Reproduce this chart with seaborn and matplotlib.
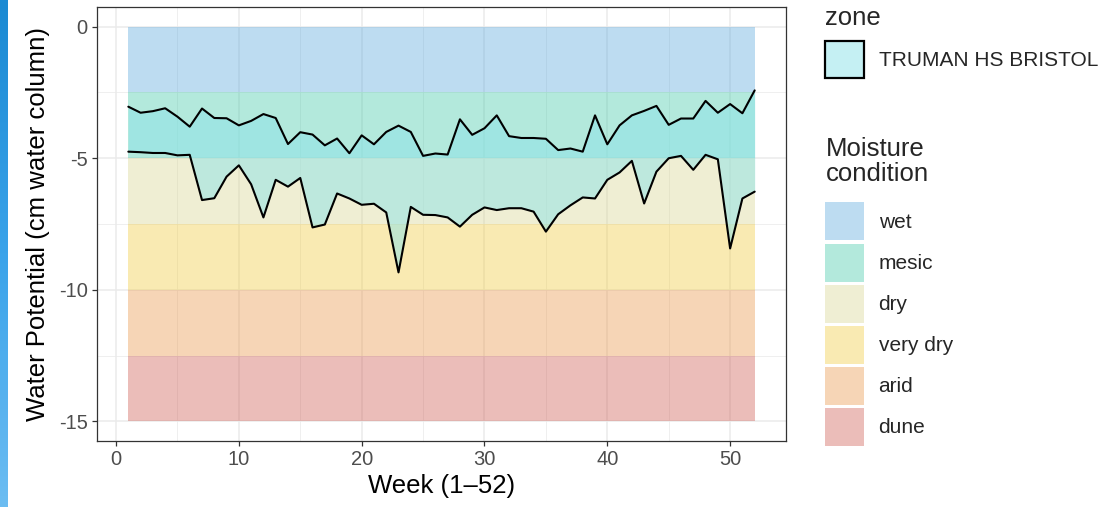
import numpy as np
import pandas as pd
import matplotlib
matplotlib.use("Agg")
import matplotlib.pyplot as plt
from matplotlib.patches import Patch
from matplotlib.colors import to_rgba, LinearSegmentedColormap
import seaborn as sns

# weekly water potential envelope (cm water column)
weeks = list(range(1, 53))
upper = [-3.04, -3.27, -3.21, -3.10, -3.42, -3.80, -3.11, -3.47, -3.48, -3.75,
         -3.58, -3.32, -3.47, -4.46, -4.01, -4.10, -4.51, -4.25, -4.81, -4.13,
         -4.47, -4.00, -3.76, -4.00, -4.91, -4.82, -4.86, -3.52, -4.11, -3.86,
         -3.37, -4.16, -4.23, -4.23, -4.26, -4.69, -4.63, -4.75, -3.37, -4.47,
         -3.75, -3.37, -3.20, -3.01, -3.73, -3.49, -3.49, -2.82, -3.27, -2.94,
         -3.29, -2.42]
lower = [-4.75, -4.77, -4.80, -4.80, -4.89, -4.87, -6.59, -6.52, -5.70, -5.27,
         -5.99, -7.25, -5.82, -6.08, -5.75, -7.63, -7.52, -6.34, -6.53, -6.77,
         -6.73, -7.06, -9.34, -6.85, -7.15, -7.16, -7.25, -7.60, -7.15, -6.87,
         -6.97, -6.90, -6.90, -7.03, -7.79, -7.13, -6.79, -6.49, -6.53, -5.82,
         -5.54, -5.10, -6.72, -5.51, -5.00, -4.91, -5.44, -4.87, -5.04, -8.43,
         -6.53, -6.27]
zone_name = "TRUMAN HS BRISTOL"

# moisture condition bands
conditions = ["wet", "mesic", "dry", "very dry", "arid", "dune"]
band_top = [0, -2.5, -5, -7.5, -10, -12.5]
band_bottom = [-2.5, -5, -7.5, -10, -12.5, -15]
band_colors = ["#5aa8dc", "#41c8a8", "#d7d591", "#f0cb3f", "#e99649", "#cd5a50"]
band_alpha = 0.4
ribbon_color = "#8de3e8"
ribbon_alpha = 0.5

df = pd.DataFrame({"week": weeks, "upper": upper, "lower": lower})

sns.set_theme(style="white")
plt.rcParams["font.family"] = ["Liberation Sans", "DejaVu Sans"]
plt.rcParams["axes.unicode_minus"] = False

fig = plt.figure(figsize=(11.1, 5.07), dpi=100)
ax = fig.add_axes([97 / 1110, 1 - 441 / 507, (786 - 97) / 1110, (441 - 7) / 507])

# left edge decoration strip
strip = fig.add_axes([0, 0, 8 / 1110, 1])
grad = np.linspace(0, 1, 256).reshape(-1, 1)
strip.imshow(grad, aspect="auto",
             cmap=LinearSegmentedColormap.from_list("s", ["#1b8ad3", "#3aa3ea", "#6cbdf2"]))
strip.set_axis_off()

xlo, xhi = min(weeks), max(weeks)
for top, bot, col in zip(band_top, band_bottom, band_colors):
    ax.fill_between([xlo, xhi], [top, top], [bot, bot], color=col, alpha=band_alpha,
                    linewidth=0, zorder=1)

ax.fill_between(df["week"], df["lower"], df["upper"], color=ribbon_color,
                alpha=ribbon_alpha, linewidth=0, zorder=2)
sns.lineplot(data=df, x="week", y="upper", color="black", linewidth=1.5, ax=ax, zorder=3)
sns.lineplot(data=df, x="week", y="lower", color="black", linewidth=1.5, ax=ax, zorder=3)

span = xhi - xlo
ax.set_xlim(xlo - 0.05 * span, xhi + 0.05 * span)
ax.set_ylim(-15 - 0.75, 0 + 0.75)
ax.set_xticks([0, 10, 20, 30, 40, 50])
ax.set_xticks([5, 15, 25, 35, 45], minor=True)
ax.set_yticks([0, -5, -10, -15])
ax.set_yticks([-2.5, -7.5, -12.5], minor=True)
ax.set_axisbelow(True)
ax.grid(True, which="major", color="#ebebeb", linewidth=1.1)
ax.grid(True, which="minor", color="#ebebeb", linewidth=0.55)
for s in ax.spines.values():
    s.set_color("#333333")
    s.set_linewidth(0.9)
ax.tick_params(axis="both", which="major", length=3.8, width=0.9, color="#333333",
               labelcolor="#4d4d4d", labelsize=14.5, pad=3, bottom=True, left=True)
ax.tick_params(axis="both", which="minor", length=0)

ax.set_xlabel("Week (1\u201352)", fontsize=18.5, color="black", labelpad=3)
ax.set_ylabel("Water Potential (cm water column)", fontsize=18.5, color="black", labelpad=6)

zone_handle = [Patch(facecolor=to_rgba(ribbon_color, ribbon_alpha), edgecolor="black",
                     linewidth=1.6)]
leg1 = fig.legend(zone_handle, [zone_name], title="zone", loc="upper left",
                  bbox_to_anchor=(815 / 1110, 1 + 4 / 507), frameon=False, borderpad=0,
                  fontsize=15, title_fontsize=18.5, alignment="left",
                  handlelength=1.85, handleheight=2.4, handletextpad=0.7)

# moisture legend: title drawn separately for the wider gap above the keys
fig.text(826 / 1110, 1 - 137 / 507, "Moisture\ncondition", ha="left", va="top",
         fontsize=18.5, linespacing=1.05)
band_handles = [Patch(facecolor=to_rgba(c, band_alpha), edgecolor="none") for c in band_colors]
leg2 = fig.legend(band_handles, conditions, loc="upper left",
                  bbox_to_anchor=(815 / 1110, 1 - 192 / 507), frameon=False, borderpad=0,
                  fontsize=15, handlelength=1.85, handleheight=2.43, handletextpad=0.7,
                  labelspacing=0.15)

fig.savefig("out.png", dpi=100)
